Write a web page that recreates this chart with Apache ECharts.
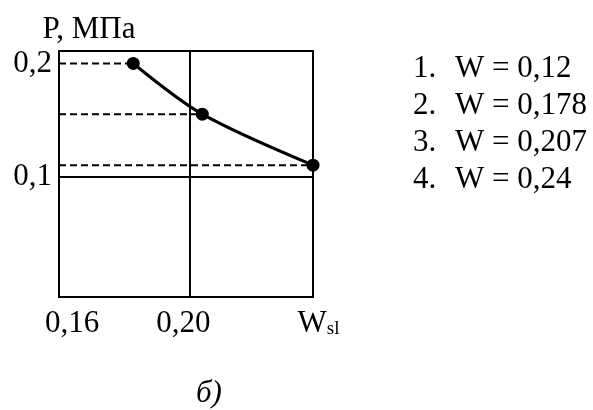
<!DOCTYPE html>
<html>
<head>
<meta charset="utf-8">
<script src="https://cdn.jsdelivr.net/npm/echarts@6/dist/echarts.min.js"></script>
<style>html,body{margin:0;padding:0;background:#fff;}#c{width:593px;height:410px;}</style>
</head>
<body>
<div id="c"></div>
<script>
// ---- data ----
const curveW = [0.1828, 0.2040, 0.2380];   // moisture W of the three points
const curveP = [0.200, 0.1553, 0.1103];    // pressure P, MPa
const xTickValues = [0.16, 0.20];
const xTickLabels = ['0,16', '0,20'];
const yTickValues = [0.1, 0.2];
const yTickLabels = ['0,1', '0,2'];
const legendNums = ['1.', '2.', '3.', '4.'];
const legendW = ['0,12', '0,178', '0,207', '0,24'];
const xMin = 0.16, xMax = 0.238, yMin = -0.006, yMax = 0.211;
const wslValue = 0.238;

const FONT = 'Liberation Serif';
const FS = 31;

const chart = echarts.init(document.getElementById('c'), null, {renderer: 'canvas'});

const dashedSeries = curveW.map((w, i) => ({
  type: 'line',
  data: [[xMin, curveP[i]], [w, curveP[i]]],
  symbol: 'none',
  silent: true,
  z: 1,
  lineStyle: {color: '#000', width: 2, type: [7, 4]}
}));

const legendGraphics = [];
const legendRowY = [67, 104, 141, 178];
legendNums.forEach((n, i) => {
  const y = legendRowY[i];
  legendGraphics.push({type: 'text', left: 413, top: y - 14, style: {text: n, font: FS + 'px "' + FONT + '"', fill: '#000'}});
  legendGraphics.push({type: 'text', left: 455, top: y - 14, style: {text: 'W = ' + legendW[i], font: FS + 'px "' + FONT + '"', fill: '#000'}});
});

chart.setOption({
  animation: false,
  backgroundColor: '#fff',
  grid: {left: 59, right: 280, top: 51, bottom: 113, show: true, borderColor: '#000', borderWidth: 2, backgroundColor: 'transparent'},
  xAxis: {
    type: 'value', min: xMin, max: xMax,
    axisLine: {show: false}, axisTick: {show: false}, splitLine: {show: false},
    axisLabel: {
      customValues: xTickValues.concat([wslValue]),
      margin: 11,
      color: '#000', fontFamily: FONT, fontSize: FS,
      formatter: function (v) {
        if (Math.abs(v - xTickValues[0]) < 1e-6) return '{a|' + xTickLabels[0] + '}';
        if (Math.abs(v - xTickValues[1]) < 1e-6) return '{b|' + xTickLabels[1] + '}';
        return '{w|W}{s|sl}';
      },
      rich: {
        a: {fontFamily: FONT, fontSize: FS, color: '#000', padding: [0, 0, 0, 26]},
        b: {fontFamily: FONT, fontSize: FS, color: '#000', padding: [0, 12, 0, 0]},
        w: {fontFamily: FONT, fontSize: FS, color: '#000', padding: [0, 0, 0, 11]},
        s: {fontFamily: FONT, fontSize: 19, color: '#000', verticalAlign: 'bottom', padding: [12, 0, 0, 0]}
      }
    }
  },
  yAxis: {
    type: 'value', min: yMin, max: yMax,
    name: '{n|P, МПа}', nameLocation: 'end', nameGap: 6,
    nameTextStyle: {rich: {n: {fontFamily: FONT, fontSize: FS, color: '#000', padding: [0, 0, 0, 60]}}},
    axisLine: {show: false}, axisTick: {show: false}, splitLine: {show: false},
    axisLabel: {
      customValues: yTickValues,
      margin: 7,
      color: '#000', fontFamily: FONT, fontSize: FS,
      formatter: function (v) {
        const i = yTickValues.findIndex(t => Math.abs(t - v) < 1e-6);
        return i >= 0 ? yTickLabels[i] : '';
      }
    }
  },
  series: dashedSeries.concat([{
    type: 'line',
    data: curveW.map((w, i) => [w, curveP[i]]),
    smooth: 0.3,
    symbol: 'circle', symbolSize: 13,
    itemStyle: {color: '#000'},
    lineStyle: {color: '#000', width: 3},
    z: 5,
    markLine: {
      silent: true, symbol: 'none', label: {show: false},
      lineStyle: {color: '#000', width: 2, type: 'solid'},
      data: [{yAxis: yTickValues[0]}, {xAxis: xTickValues[1]}]
    }
  }]),
  graphic: legendGraphics.concat([
    {type: 'text', left: 196, top: 378, style: {text: 'б)', font: 'italic ' + FS + 'px "' + FONT + '"', fill: '#000'}}
  ])
});
</script>
</body>
</html>
